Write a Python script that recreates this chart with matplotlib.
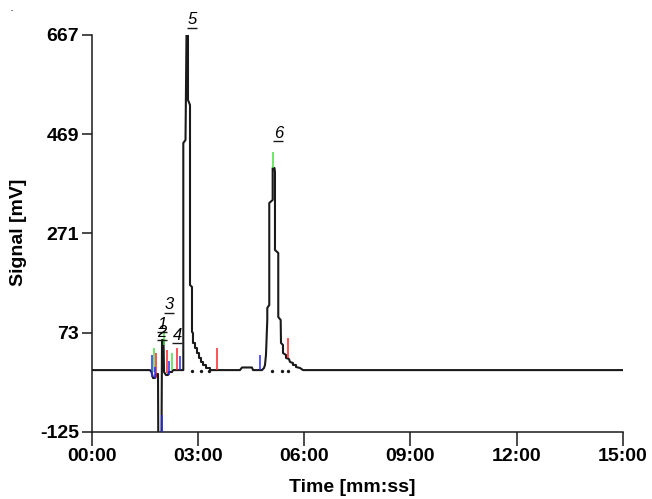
import matplotlib
matplotlib.use("Agg")
import matplotlib.pyplot as plt
from matplotlib.transforms import offset_copy

plt.rcParams['font.family'] = ['Liberation Sans', 'DejaVu Sans']

# ---- data (time in minutes, signal in mV) ----
trace_time = [0.0, 1.651, 1.693, 1.736, 1.792, 1.834, 1.877, 1.885, 1.947, 1.975, 1.990,
              2.032, 2.046, 2.102, 2.159, 2.187, 2.272, 2.300, 2.591,
              2.591, 2.653, 2.681, 2.723, 2.723, 2.780, 2.780, 2.836, 2.836,
              2.864, 2.864, 2.921, 2.921, 2.977, 2.977, 3.034, 3.034, 3.090, 3.090,
              3.147, 3.147, 3.231, 3.231, 3.344, 3.344,
              4.191, 4.247, 4.529, 4.558,
              4.811, 4.868, 4.896, 4.924, 4.961, 4.961, 5.017, 5.017, 5.113, 5.113,
              5.164, 5.178, 5.178, 5.271, 5.271, 5.339, 5.348, 5.404, 5.404, 5.489, 5.489,
              5.573, 5.602, 5.686, 5.686, 5.771, 5.771, 5.884, 5.969, 15.0]
trace_signal = [-2, -2, -5.8, -17.8, -17.8, -9.8, -9.8, -145, -145, -145, 58,
                58, -5.8, -11.8, -11.8, -5.8, -5.8, -2, -2,
                451.4, 457.4, 667, 667, 537.2, 527.3, 167.9, 163.9, 74.1,
                72.1, 52.1, 52.1, 42.1, 42.1, 32.1, 32.1, 22.2, 22.2, 14.2,
                14.2, 8.2, 8.2, 2.2, 2.2, -2,
                -2, 3.2, 3.2, -2,
                -2, 2.2, 8.2, 28.1, 98, 122, 128, 331.6, 337.6, 401.5,
                401.5, 393.5, 237.8, 231.8, 104, 98, 52.1, 48.1, 32.1, 28.1, 22.2,
                20.2, 14.2, 12.2, 8.2, 8.2, 4.2, 2.2, -2, -2]

marker_time = [1.699, 1.772, 1.829, 1.792, 1.981, 2.040, 2.122, 2.196, 2.263, 2.413, 2.489,
               3.550, 4.755, 5.554, 5.113]
marker_low = [-15.8, -5.8, -17.8, -17.8, -125, 48.1, -7.8, -11.8, -2, -2, -2,
              -2, -2, 22.2, 401.5]
marker_high = [28.1, 42.1, 32.1, 4.2, -91.7, 74.1, 38.1, 16.2, 32.1, 42.1, 26.2,
               42.1, 28.1, 62.1, 433.4]
marker_kind = ['b', 'g', 'r', 'b', 'b', 'g', 'r', 'b', 'g', 'r', 'b',
               'r', 'b', 'r', 'g']

dot_time = [2.828, 3.082, 3.316, 5.102, 5.367, 5.536]
dot_signal = [-3, -3, -3, -3, -3, -3]

peak_labels = ['1', '2', '3', '4', '5', '6']
peak_label_time = [1.981, 1.981, 2.196, 2.421, 2.836, 5.271]
peak_label_signal = [90, 74, 128, 68, 697, 471]

x_ticks = [0, 3, 6, 9, 12, 15]
x_tick_labels = ['00:00', '03:00', '06:00', '09:00', '12:00', '15:00']
y_ticks = [-125, 73, 271, 469, 667]

colors = {'b': '#2828ff', 'g': '#44e044', 'r': '#ff2424'}

fig = plt.figure(figsize=(6.52, 4.99), dpi=100)
ax = fig.add_axes([91.5 / 652, 1 - 431.7 / 499, (623 - 91.5) / 652, (431.7 - 35) / 499])

for t, lo, hi, k in zip(marker_time, marker_low, marker_high, marker_kind):
    ax.plot([t, t], [lo, hi], color=colors[k], lw=1.1, solid_capstyle='butt', zorder=3)

ax.plot(trace_time, trace_signal, color='#1a1a1a', lw=1.5, zorder=2)
ax.plot(dot_time, dot_signal, 'o', color='#1a1a1a', ms=1.4, zorder=2)

under = offset_copy(ax.transData, fig=fig, x=0, y=-8, units='dots')
for lab, t, v in zip(peak_labels, peak_label_time, peak_label_signal):
    ax.text(t, v, lab, fontsize=12, style='italic', ha='center',
            va='center', clip_on=False, zorder=4)
    ax.plot([t], [v], marker='_', ms=7.5, mew=1.0, color='#1a1a1a',
            transform=under, clip_on=False, zorder=4)

ax.set_xlim(0, 15)
ax.set_ylim(-125, 667)
ax.set_xticks(x_ticks)
ax.set_xticklabels(x_tick_labels, fontsize=14, fontweight='bold')
ax.set_yticks(y_ticks)
ax.set_yticklabels([str(v) for v in y_ticks], fontsize=14, fontweight='bold')
ax.tick_params(axis='x', length=10, width=1.1, pad=1.5, color='#1a1a1a')
ax.tick_params(axis='y', length=7.5, width=1.1, pad=1.5, color='#1a1a1a')
for s in ['top', 'right']:
    ax.spines[s].set_visible(False)
for s in ['left', 'bottom']:
    ax.spines[s].set_linewidth(1.1)
    ax.spines[s].set_color('#1a1a1a')

fig.text(352 / 652, 1 - 488 / 499, 'Time [mm:ss]', fontsize=14, fontweight='bold',
         ha='center', va='center')
fig.text(18.5 / 652, 1 - 232 / 499, 'Signal [mV]', fontsize=14, fontweight='bold',
         ha='center', va='center', rotation=90)
fig.text(12 / 652, 1 - 11 / 499, '-', fontsize=5, ha='center', va='center')

fig.savefig('out.png', dpi=100)
